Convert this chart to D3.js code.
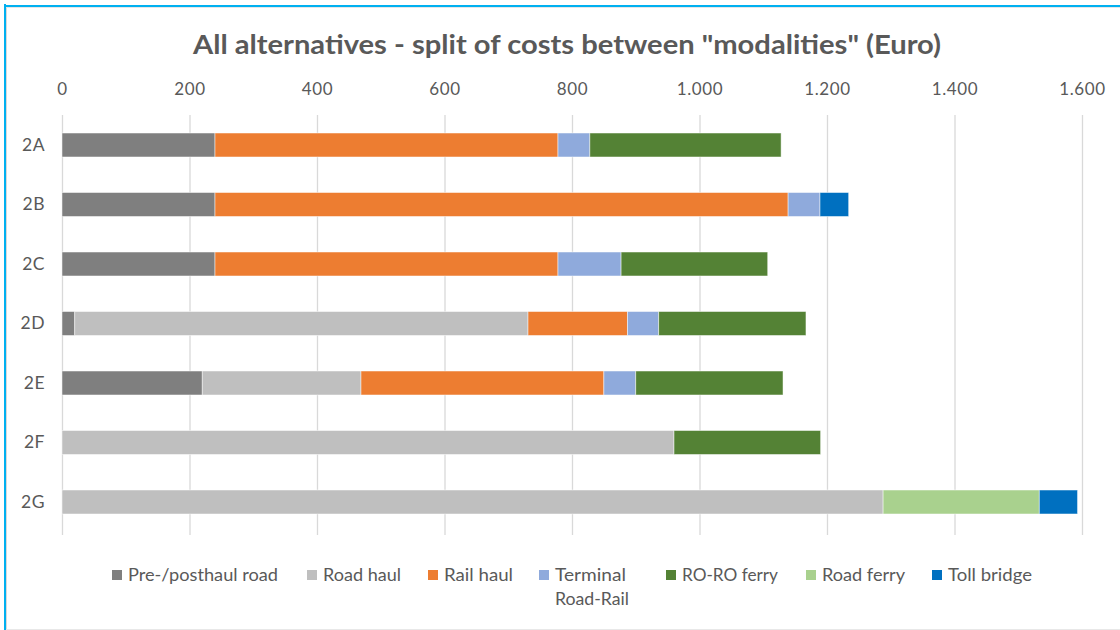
<!DOCTYPE html>
<html>
<head>
<meta charset="utf-8">
<script src="https://cdn.jsdelivr.net/npm/d3@7"></script>
<style>
  html, body { margin: 0; padding: 0; background: #fff; }
  svg { display: block; }
  text { font-family: Lato, "Open Sans", sans-serif; }
</style>
</head>
<body>
<svg id="chart" width="1120" height="630"></svg>
<script>
const categories = ["2A", "2B", "2C", "2D", "2E", "2F", "2G"];
const seriesNames = ["Pre-/posthaul road", "Road haul", "Rail haul", "Terminal Road-Rail", "RO-RO ferry", "Road ferry", "Toll bridge"];
const seriesColors = ["#7F7F7F", "#BFBFBF", "#ED7D31", "#8FAADC", "#548235", "#A9D18E", "#0070C0"];
const prePosthaul = [240, 240, 240, 20, 220, 0, 0];
const roadHaul    = [0, 0, 0, 711, 249, 960, 1288];
const railHaul    = [538, 899, 538, 156, 381, 0, 0];
const terminal    = [50, 50, 99, 49, 50, 0, 0];
const roroFerry   = [300, 0, 230, 231, 231, 230, 0];
const roadFerry   = [0, 0, 0, 0, 0, 0, 245];
const tollBridge  = [0, 45, 0, 0, 0, 0, 60];
const tickValues  = [0, 200, 400, 600, 800, 1000, 1200, 1400, 1600];
const tickLabels  = ["0", "200", "400", "600", "800", "1.000", "1.200", "1.400", "1.600"];

const seriesValues = [prePosthaul, roadHaul, railHaul, terminal, roroFerry, roadFerry, tollBridge];
const rows = categories.map((c, i) => {
  const r = { cat: c };
  seriesNames.forEach((s, j) => r[s] = seriesValues[j][i]);
  return r;
});

const svg = d3.select("#chart");

// frame
svg.append("rect").attr("x", 0).attr("y", 0).attr("width", 1120).attr("height", 630).attr("fill", "#fff");
svg.append("line").attr("x1", 6.5).attr("x2", 6.5).attr("y1", 7).attr("y2", 630).attr("stroke", "#d9d9d9").attr("stroke-width", 1);
svg.append("line").attr("x1", 6).attr("x2", 1120).attr("y1", 7.5).attr("y2", 7.5).attr("stroke", "#e6e6e6").attr("stroke-width", 1);
svg.append("line").attr("x1", 5).attr("x2", 5).attr("y1", 4).attr("y2", 630).attr("stroke", "#00B0F0").attr("stroke-width", 2);
svg.append("line").attr("x1", 4).attr("x2", 1120).attr("y1", 6).attr("y2", 6).attr("stroke", "#00B0F0").attr("stroke-width", 2);
svg.append("line").attr("x1", 6).attr("x2", 1120).attr("y1", 629.5).attr("y2", 629.5).attr("stroke", "#e8e8e8").attr("stroke-width", 1);

const x = d3.scaleLinear().domain([0, 1600]).range([62, 1082]);
const y = d3.scaleBand().domain(categories).range([115.25, 531.75]).paddingInner(0.597).paddingOuter(0.2985);

// gridlines
const gridG = svg.append("g")
  .attr("transform", `translate(0,${115})`)
  .call(d3.axisTop(x).tickValues(tickValues).tickSize(-420).tickFormat(""));
gridG.select(".domain").remove();
gridG.selectAll(".tick line").attr("stroke", "#D9D9D9").attr("stroke-width", 1.3);

// top axis labels
const axG = svg.append("g")
  .attr("transform", `translate(0,${95})`)
  .call(d3.axisTop(x).tickValues(tickValues).tickSize(0).tickPadding(0).tickFormat((d, i) => tickLabels[i]));
axG.select(".domain").remove();
axG.selectAll("text").attr("fill", "#595959").attr("font-size", 17).attr("font-family", "Lato, sans-serif")
  .attr("letter-spacing", 0.6);

// stacked bars
const stack = d3.stack().keys(seriesNames)(rows);
const layer = svg.append("g").selectAll("g").data(stack).join("g")
  .attr("fill", (d, i) => seriesColors[i]);
layer.selectAll("rect").data(d => d.filter(p => p[1] - p[0] > 0)).join("rect")
  .attr("x", p => x(p[0]))
  .attr("width", p => x(p[1]) - x(p[0]))
  .attr("y", p => y(p.data.cat))
  .attr("height", y.bandwidth())
  .attr("stroke", "#ffffff").attr("stroke-opacity", 0.6).attr("stroke-width", 0.8);

// category labels
const catG = svg.append("g")
  .attr("transform", `translate(45,0)`)
  .call(d3.axisLeft(y).tickSize(0).tickPadding(0));
catG.select(".domain").remove();
catG.selectAll("text").attr("fill", "#595959").attr("font-size", 17.5).attr("font-family", "Lato, sans-serif")
  .attr("letter-spacing", 0.5);

// title
svg.append("text").attr("x", 567).attr("y", 54).attr("text-anchor", "middle")
  .attr("font-size", 26).attr("font-weight", "bold").attr("fill", "#595959")
  .attr("textLength", 748).attr("lengthAdjust", "spacingAndGlyphs")
  .text('All alternatives - split of costs between "modalities" (Euro)');

// legend
const legendX = [112, 307, 428, 539, 666, 806, 932];
const legendW = [150, 78, 69, 71, 96, 83, 84];
const lg = svg.append("g").selectAll("g").data(seriesNames).join("g")
  .attr("transform", (d, i) => `translate(${legendX[i]},575)`);
lg.append("rect").attr("x", 0).attr("y", -5).attr("width", 10).attr("height", 10)
  .attr("fill", (d, i) => seriesColors[i]);
lg.each(function(d, i) {
  const t = d3.select(this).append("text").attr("x", 16).attr("y", 6)
    .attr("font-size", 17).attr("fill", "#595959");
  if (d === "Terminal Road-Rail") {
    t.append("tspan").attr("x", 16).attr("dy", 0).attr("textLength", 71).attr("lengthAdjust", "spacingAndGlyphs").text("Terminal");
    t.append("tspan").attr("x", 16).attr("dy", 24).attr("textLength", 74).attr("lengthAdjust", "spacingAndGlyphs").text("Road-Rail");
  } else {
    t.attr("textLength", legendW[i]).attr("lengthAdjust", "spacingAndGlyphs").text(d);
  }
});
</script>
</body>
</html>
